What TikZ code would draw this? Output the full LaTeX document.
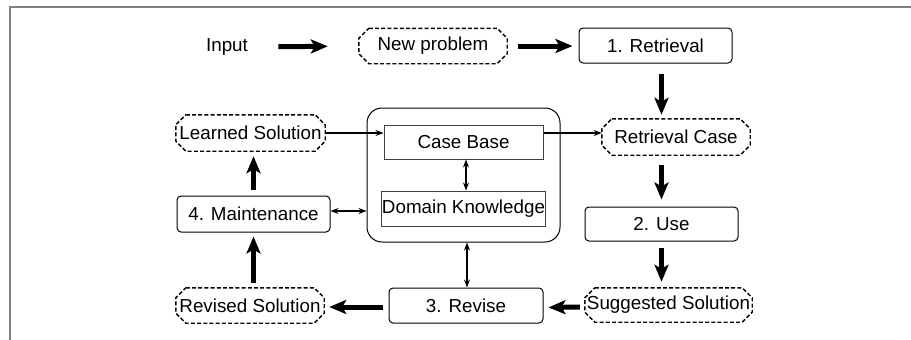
\documentclass[tikz,border=0pt]{standalone}
\usepackage{fontspec}
\setmainfont{Liberation Sans}
\usetikzlibrary{arrows.meta,calc}
\tikzset{
  lbl/.style={font=\fontsize{18.8}{22}\selectfont, text=black},
  databox/.style={lbl, inner sep=0pt, minimum width=#1, minimum height=35pt},
  dashline/.style={draw, dash pattern=on 4pt off 2.2pt, line width=1.4pt},
  procbox/.style={lbl, draw, rounded corners=4pt, line width=1pt, inner sep=0pt,
    minimum width=153pt, minimum height=35pt},
  storebox/.style={lbl, draw=black!75, line width=1pt, inner sep=0pt,
    minimum width=159pt, minimum height=34pt},
  kbframe/.style={draw, rounded corners=15pt, line width=1pt, inner sep=0pt,
    minimum width=193pt, minimum height=134pt},
  bigarrow/.style={line width=5pt, -{Stealth[length=17pt,width=14pt,inset=4pt]}},
  thinarrow/.style={line width=1.2pt, -{Stealth[length=8pt,width=6pt]}},
  twoway/.style={line width=1.2pt, {Stealth[length=8pt,width=6pt]}-{Stealth[length=8pt,width=6pt]}},
}
% dashed octagonal outline around a named node (corners cut by 10pt)
\newcommand\octframe[1]{%
  \draw[dashline] ([xshift=10pt]#1.north west) -- ([xshift=-10pt]#1.north east)
    -- ([yshift=-10pt]#1.north east) -- ([yshift=10pt]#1.south east)
    -- ([xshift=-10pt]#1.south east) -- ([xshift=10pt]#1.south west)
    -- ([yshift=10pt]#1.south west) -- ([yshift=-10pt]#1.north west) -- cycle;}
\begin{document}
\begin{tikzpicture}[x=1pt,y=-1pt]
  \useasboundingbox (0,0) rectangle (911,340);
  % outer frame (top and left edges)
  \draw[gray, line width=2pt] (10,340) -- (10,7) -- (911,7);

  % knowledge container
  \node[kbframe] (kb) at (463.5,175) {};
  \node[storebox] (cb) at (463.5,142) {Case Base};
  \node[storebox, minimum height=35pt] (dk) at (463.5,208.5) {Domain Knowledge};

  % cycle elements
  \node[lbl] (input) at (227,47) {Input};
  \node[databox=148pt] (newp) at (433,46) {New problem};
  \node[procbox] (retr) at (655.5,45.5) {1. Retrieval};
  \node[databox=148pt, minimum height=36pt] (rcase) at (676,137) {Retrieval Case};
  \node[procbox, minimum height=34pt] (use) at (661.5,224) {2. Use};
  \node[databox=167pt, minimum height=34pt] (sugg) at (668.5,305) {Suggested Solution};
  \node[procbox, minimum width=154pt] (revise) at (466,305.5) {3. Revise};
  \node[databox=148pt] (revsol) at (250,305.5) {Revised Solution};
  \node[procbox, minimum height=36pt] (maint) at (253.5,214) {4. Maintenance};
  \node[databox=149pt, minimum height=36pt] (learned) at (250.5,133) {Learned Solution};
  \octframe{newp}
  \octframe{rcase}
  \octframe{sugg}
  \octframe{revsol}
  \octframe{learned}

  % main flow
  \draw[bigarrow, shorten <=27pt, shorten >=31pt] (input.east) -- (newp.west);
  \draw[bigarrow, shorten <=11pt, shorten >=6pt] (newp.east) -- (retr.west |- newp.east);
  \draw[bigarrow, shorten <=10pt, shorten >=4pt] (retr.south -| use) -- (rcase.north -| use);
  \draw[bigarrow, shorten <=10pt, shorten >=7pt] (rcase.south -| use) -- (use.north);
  \draw[bigarrow, shorten <=6pt, shorten >=6pt] (use.south) -- (sugg.north -| use);
  \draw[bigarrow, shorten <=5pt, shorten >=5pt] ([yshift=-2pt]sugg.west) -- ([yshift=-2pt]revise.east);
  \draw[bigarrow, shorten <=6pt, shorten >=5pt] ([yshift=-1.5pt]revise.west) -- ([yshift=-1.5pt]revsol.east);
  \draw[bigarrow, shorten <=5pt, shorten >=4pt] (revsol.north -| maint) -- (maint.south);
  \draw[bigarrow, shorten <=6pt, shorten >=5pt] (maint.north) -- (learned.south -| maint);

  % knowledge exchange
  \draw[thinarrow] (learned.east) -- (learned.east -| cb.west);
  \draw[thinarrow] (cb.east |- learned) -- (rcase.west |- learned);
  \draw[twoway] ([yshift=3pt]maint.east) -- ([yshift=3pt]maint.east -| kb.west);
  \draw[twoway] ([xshift=2.5pt]cb.south) -- ([xshift=2.5pt]dk.north);
  \draw[twoway] ([xshift=3.5pt]kb.south) -- ([xshift=3.5pt]kb.south |- revise.north);
\end{tikzpicture}
\end{document}
